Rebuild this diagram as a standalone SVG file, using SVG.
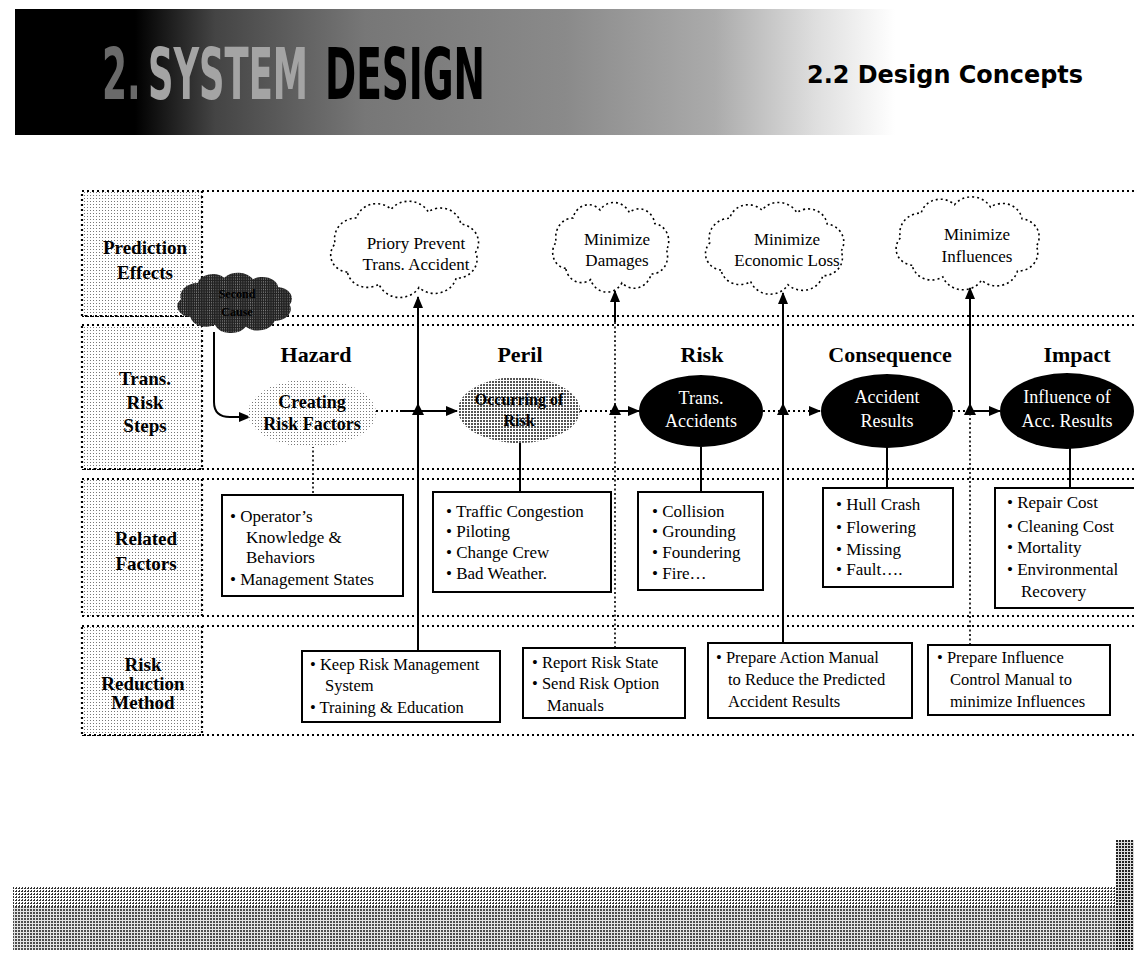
<svg xmlns="http://www.w3.org/2000/svg" width="1134" height="973" viewBox="0 0 1134 973">
<defs>
<style>
.dot{fill:none;stroke:#000;stroke-width:2.2;stroke-dasharray:2 3}
.thin{fill:none;stroke:#000;stroke-width:1.6;stroke-dasharray:2 2.5}
.sol{fill:none;stroke:#000;stroke-width:2}
.box{fill:#fff;stroke:#000;stroke-width:2}
.lbl{fill:url(#light);stroke:#000;stroke-width:2.2;stroke-dasharray:2 3}
.cl{fill:#fff;stroke:#000;stroke-width:1.6;stroke-dasharray:2 3}
.t{font-family:"Liberation Serif","DejaVu Serif",serif;fill:#000}
.b{font-weight:bold}
.w{fill:#fff}
.tri{fill:#000}
.hd{font-family:"DejaVu Sans Condensed","DejaVu Sans","Liberation Sans",sans-serif;font-weight:bold}
</style>
<pattern id="light" width="3" height="3" patternUnits="userSpaceOnUse"><rect width="3" height="3" fill="#fff"/><rect width="1" height="1" fill="#777"/></pattern>
<pattern id="mid" width="3" height="3" patternUnits="userSpaceOnUse"><rect width="3" height="3" fill="#fff"/><rect width="2" height="2" fill="#555"/></pattern>
<pattern id="dark" width="3" height="3" patternUnits="userSpaceOnUse"><rect width="3" height="3" fill="#222"/><rect width="1" height="1" fill="#bbb"/></pattern>
<pattern id="foot" width="3" height="3" patternUnits="userSpaceOnUse"><rect width="3" height="3" fill="#fff"/><rect width="2" height="1" fill="#333"/><rect y="2" x="1" width="1" height="1" fill="#333"/></pattern>
<pattern id="foot2" width="3" height="3" patternUnits="userSpaceOnUse"><rect width="3" height="3" fill="#ddd"/><rect width="2" height="2" fill="#222"/></pattern>
<linearGradient id="hdr" x1="0" x2="1" y1="0" y2="0">
<stop offset="0" stop-color="#000"/>
<stop offset="0.12" stop-color="#000"/>
<stop offset="0.2" stop-color="#444"/>
<stop offset="0.35" stop-color="#777"/>
<stop offset="0.55" stop-color="#8a8a8a"/>
<stop offset="0.7" stop-color="#ababab"/>
<stop offset="0.8" stop-color="#dedede"/>
<stop offset="0.88" stop-color="#fff"/>
</linearGradient>
<marker id="arr" viewBox="0 0 12 10" refX="11" refY="5" markerWidth="13" markerHeight="10" markerUnits="userSpaceOnUse" orient="auto"><path d="M0,0 L12,5 L0,10 z" fill="#000"/></marker>
<path id="cloud" vector-effect="non-scaling-stroke" d="M -62,28 A 20 20 0 0 1 -75,-5 A 24 24 0 0 1 -52,-35 A 22 22 0 0 1 -15,-45 A 24 24 0 0 1 25,-42 A 22 22 0 0 1 60,-28 A 22 22 0 0 1 76,5 A 22 22 0 0 1 55,35 A 24 24 0 0 1 15,46 A 24 24 0 0 1 -28,42 A 22 22 0 0 1 -62,28 Z"/>
</defs>
<rect width="1134" height="973" fill="#fff"/>

<g id="header">
<rect x="15" y="9" width="1000" height="126" fill="url(#hdr)"/>
<g transform="translate(0,99) scale(1,1.8)">
<text class="hd" x="102" y="0" font-size="40" fill="#6a6a6a">2.</text>
<text class="hd" x="148" y="0" font-size="40" fill="#a4a4a4" textLength="160" lengthAdjust="spacingAndGlyphs">SYSTEM</text>
<text class="hd" x="325" y="0" font-size="40" fill="#000" textLength="160" lengthAdjust="spacingAndGlyphs">DESIGN</text>
</g>
<text class="hd" x="807" y="83" font-size="25" fill="#000" textLength="276" lengthAdjust="spacingAndGlyphs">2.2 Design Concepts</text>
</g>

<g id="frame">
<line class="dot" x1="82" y1="191" x2="1134" y2="191"/>
<line class="dot" x1="82" y1="316" x2="1134" y2="316"/>
<line class="dot" x1="82" y1="325" x2="1134" y2="325"/>
<line class="dot" x1="82" y1="469" x2="1134" y2="469"/>
<line class="dot" x1="82" y1="479" x2="1134" y2="479"/>
<line class="dot" x1="82" y1="616" x2="1134" y2="616"/>
<line class="dot" x1="82" y1="626" x2="1134" y2="626"/>
<line class="dot" x1="82" y1="735" x2="1134" y2="735"/>
</g>

<g id="label-prediction">
<rect class="lbl" x="82" y="191" width="120" height="125"/>
<text class="t b" x="145" y="254" font-size="19" text-anchor="middle">Prediction</text>
<text class="t b" x="145" y="279" font-size="19" text-anchor="middle">Effects</text>
</g>
<g id="label-steps">
<rect class="lbl" x="82" y="325" width="120" height="144"/>
<text class="t b" x="145" y="385" font-size="19" text-anchor="middle">Trans.</text>
<text class="t b" x="145" y="409" font-size="19" text-anchor="middle">Risk</text>
<text class="t b" x="145" y="432" font-size="19" text-anchor="middle">Steps</text>
</g>
<g id="label-related">
<rect class="lbl" x="82" y="479" width="120" height="137"/>
<text class="t b" x="146" y="545" font-size="19" text-anchor="middle">Related</text>
<text class="t b" x="146" y="570" font-size="19" text-anchor="middle">Factors</text>
</g>
<g id="label-reduction">
<rect class="lbl" x="82" y="626" width="120" height="109"/>
<text class="t b" x="143" y="671" font-size="19" text-anchor="middle">Risk</text>
<text class="t b" x="143" y="690" font-size="19" text-anchor="middle">Reduction</text>
<text class="t b" x="143" y="709" font-size="19" text-anchor="middle">Method</text>
</g>

<g id="cloud-prevent">
<use href="#cloud" class="cl" transform="translate(405,248) scale(0.93,0.86)"/>
<text class="t" x="416" y="249" font-size="17" text-anchor="middle">Priory Prevent</text>
<text class="t" x="416" y="270" font-size="17" text-anchor="middle">Trans. Accident</text>
</g>
<g id="cloud-damages">
<use href="#cloud" class="cl" transform="translate(611,246) scale(0.73,0.8)"/>
<text class="t" x="617" y="245" font-size="17" text-anchor="middle">Minimize</text>
<text class="t" x="617" y="266" font-size="17" text-anchor="middle">Damages</text>
</g>
<g id="cloud-economic">
<use href="#cloud" class="cl" transform="translate(775,247) scale(0.87,0.82)"/>
<text class="t" x="787" y="245" font-size="17" text-anchor="middle">Minimize</text>
<text class="t" x="787" y="266" font-size="17" text-anchor="middle">Economic Loss</text>
</g>
<g id="cloud-influences">
<use href="#cloud" class="cl" transform="translate(968,242) scale(0.9,0.83)"/>
<text class="t" x="977" y="240" font-size="17" text-anchor="middle">Minimize</text>
<text class="t" x="977" y="262" font-size="17" text-anchor="middle">Influences</text>
</g>

<g id="cloud-cause">
<use href="#cloud" fill="url(#dark)" stroke="none" transform="translate(235,302) scale(0.72,0.54)"/>
<text class="t b" x="237" y="298" font-size="12" text-anchor="middle" fill="#000">Second</text>
<text class="t b" x="237" y="316" font-size="12" text-anchor="middle" fill="#000">Cause</text>
</g>

<g id="connectors">
<path class="sol" d="M214,332 V402 Q214,417 230,417 H250" marker-end="url(#arr)"/>
<line class="dot" x1="376" y1="411" x2="400" y2="411"/>
<line class="sol" x1="400" y1="411" x2="457" y2="411" marker-end="url(#arr)"/>
<line class="dot" x1="580" y1="411" x2="612" y2="411"/>
<line class="sol" x1="612" y1="411" x2="639" y2="411" marker-end="url(#arr)"/>
<line class="dot" x1="763" y1="411" x2="820" y2="411" marker-end="url(#arr)"/>
<line class="dot" x1="953" y1="411" x2="972" y2="411"/>
<line class="sol" x1="972" y1="411" x2="1000" y2="411" marker-end="url(#arr)"/>

<line class="sol" x1="418" y1="651" x2="418" y2="297" marker-end="url(#arr)"/>
<line class="thin" x1="615" y1="648" x2="615" y2="322"/>
<line class="sol" x1="615" y1="322" x2="615" y2="291" marker-end="url(#arr)"/>
<line class="sol" x1="783" y1="643" x2="783" y2="293" marker-end="url(#arr)"/>
<line class="thin" x1="970" y1="645" x2="970" y2="411"/>
<line class="sol" x1="970" y1="411" x2="970" y2="288" marker-end="url(#arr)"/>
<polygon class="tri" points="418,403 412,415 424,415"/>
<polygon class="tri" points="615,403 609,415 621,415"/>
<polygon class="tri" points="783,403 777,415 789,415"/>
<polygon class="tri" points="970,403 964,415 976,415"/>

<line class="thin" x1="313" y1="446" x2="313" y2="495"/>
<line class="sol" x1="520" y1="443" x2="520" y2="492"/>
<line class="sol" x1="701" y1="447" x2="701" y2="492"/>
<line class="sol" x1="887" y1="447" x2="887" y2="488"/>
<line class="sol" x1="1070" y1="448" x2="1070" y2="488"/>
</g>

<g id="hazard">
<text class="t b" x="316" y="362" font-size="22" text-anchor="middle">Hazard</text>
<ellipse cx="312" cy="413" rx="64" ry="34" fill="url(#light)"/>
<text class="t b" x="312" y="408" font-size="18" text-anchor="middle">Creating</text>
<text class="t b" x="312" y="430" font-size="18" text-anchor="middle">Risk Factors</text>
</g>
<g id="peril">
<text class="t b" x="520" y="362" font-size="22" text-anchor="middle">Peril</text>
<ellipse cx="519" cy="410" rx="61" ry="33" fill="url(#mid)"/>
<text class="t b" x="519" y="405" font-size="16" text-anchor="middle" fill="#fff">Occurring of</text>
<text class="t b" x="519" y="426" font-size="16" text-anchor="middle" fill="#fff">Risk</text>
</g>
<g id="risk">
<text class="t b" x="702" y="362" font-size="22" text-anchor="middle">Risk</text>
<ellipse cx="701" cy="411" rx="62" ry="36" fill="#000"/>
<text class="t w" x="701" y="404" font-size="18" text-anchor="middle">Trans.</text>
<text class="t w" x="701" y="427" font-size="18" text-anchor="middle">Accidents</text>
</g>
<g id="consequence">
<text class="t b" x="890" y="362" font-size="22" text-anchor="middle">Consequence</text>
<ellipse cx="887" cy="411" rx="66" ry="37" fill="#000"/>
<text class="t w" x="887" y="403" font-size="18" text-anchor="middle">Accident</text>
<text class="t w" x="887" y="427" font-size="18" text-anchor="middle">Results</text>
</g>
<g id="impact">
<text class="t b" x="1077" y="362" font-size="22" text-anchor="middle">Impact</text>
<ellipse cx="1067" cy="411" rx="67" ry="38" fill="#000"/>
<text class="t w" x="1067" y="403" font-size="18" text-anchor="middle">Influence of</text>
<text class="t w" x="1067" y="427" font-size="18" text-anchor="middle">Acc. Results</text>
</g>

<g id="factors-hazard">
<rect class="box" x="222" y="495" width="181" height="101"/>
<text class="t" x="230" y="522" font-size="17">• Operator’s</text>
<text class="t" x="246" y="543" font-size="17">Knowledge &amp;</text>
<text class="t" x="246" y="563" font-size="17">Behaviors</text>
<text class="t" x="230" y="585" font-size="17">• Management States</text>
</g>
<g id="factors-peril">
<rect class="box" x="433" y="492" width="178" height="100"/>
<text class="t" x="446" y="517" font-size="17">• Traffic Congestion</text>
<text class="t" x="446" y="537" font-size="17">• Piloting</text>
<text class="t" x="446" y="558" font-size="17">• Change Crew</text>
<text class="t" x="446" y="579" font-size="17">• Bad Weather.</text>
</g>
<g id="factors-risk">
<rect class="box" x="638" y="492" width="125" height="98"/>
<text class="t" x="652" y="517" font-size="17">• Collision</text>
<text class="t" x="652" y="537" font-size="17">• Grounding</text>
<text class="t" x="652" y="558" font-size="17">• Foundering</text>
<text class="t" x="652" y="579" font-size="17">• Fire…</text>
</g>
<g id="factors-consequence">
<rect class="box" x="823" y="488" width="130" height="99"/>
<text class="t" x="836" y="510" font-size="17">• Hull Crash</text>
<text class="t" x="836" y="533" font-size="17">• Flowering</text>
<text class="t" x="836" y="555" font-size="17">• Missing</text>
<text class="t" x="836" y="575" font-size="17">• Fault….</text>
</g>
<g id="factors-impact">
<rect class="box" x="995" y="488" width="150" height="120"/>
<text class="t" x="1007" y="508" font-size="17">• Repair Cost</text>
<text class="t" x="1007" y="532" font-size="17">• Cleaning Cost</text>
<text class="t" x="1007" y="553" font-size="17">• Mortality</text>
<text class="t" x="1007" y="575" font-size="17">• Environmental</text>
<text class="t" x="1021" y="597" font-size="17">Recovery</text>
</g>

<g id="method-hazard">
<rect class="box" x="302" y="651" width="198" height="71"/>
<text class="t" x="310" y="670" font-size="16.5">• Keep Risk Management</text>
<text class="t" x="325" y="691" font-size="16.5">System</text>
<text class="t" x="310" y="713" font-size="16.5">• Training &amp; Education</text>
</g>
<g id="method-peril">
<rect class="box" x="523" y="648" width="162" height="70"/>
<text class="t" x="532" y="668" font-size="16.5">• Report Risk State</text>
<text class="t" x="532" y="689" font-size="16.5">• Send Risk Option</text>
<text class="t" x="547" y="711" font-size="16.5">Manuals</text>
</g>
<g id="method-consequence">
<rect class="box" x="708" y="643" width="204" height="75"/>
<text class="t" x="716" y="663" font-size="16.5">• Prepare Action Manual</text>
<text class="t" x="728" y="685" font-size="16.5">to Reduce the Predicted</text>
<text class="t" x="728" y="707" font-size="16.5">Accident Results</text>
</g>
<g id="method-impact">
<rect class="box" x="928" y="645" width="182" height="70"/>
<text class="t" x="937" y="663" font-size="16.5">• Prepare Influence</text>
<text class="t" x="950" y="685" font-size="16.5">Control Manual to</text>
<text class="t" x="950" y="707" font-size="16.5">minimize Influences</text>
</g>

<g id="footer">
<rect x="13" y="887" width="1121" height="20" fill="url(#foot)"/>
<rect x="13" y="907" width="1121" height="43" fill="url(#foot2)" opacity="0.8"/>
<rect x="1116" y="840" width="18" height="110" fill="url(#foot2)"/>
</g>
</svg>
